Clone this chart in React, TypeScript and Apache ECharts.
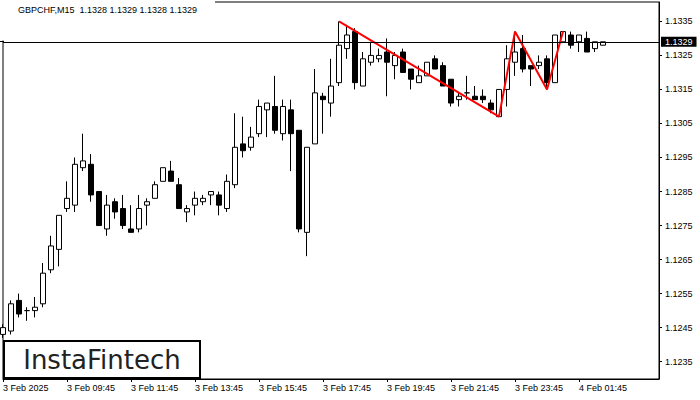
import React, { useEffect, useRef } from "react";
import * as echarts from "echarts";

const xTickLabels = [
  "3 Feb 2025", "3 Feb 09:45", "3 Feb 11:45", "3 Feb 13:45", "3 Feb 15:45",
  "3 Feb 17:45", "3 Feb 19:45", "3 Feb 21:45", "3 Feb 23:45", "4 Feb 01:45",
];
const yTickValues = [1.1235, 1.1245, 1.1255, 1.1265, 1.1275, 1.1285, 1.1295, 1.1305, 1.1315, 1.1325, 1.1335];

const opens = [
  1.1243, 1.1244, 1.1253, 1.125, 1.125, 1.1252, 1.1262, 1.1268, 1.128, 1.1281,
  1.1292, 1.1293, 1.1285, 1.1274, 1.1282, 1.128, 1.1274, 1.1274, 1.1281, 1.1283,
  1.1288, 1.1291, 1.1287, 1.1279, 1.1281, 1.1282, 1.1284, 1.1284, 1.128, 1.1287,
  1.1299, 1.1298, 1.1302, 1.1309, 1.131, 1.1302, 1.1309, 1.1303, 1.1273, 1.1299,
  1.1313, 1.1311, 1.1317, 1.1327, 1.1332, 1.1316, 1.1323, 1.1324, 1.1326, 1.1322,
  1.1326, 1.1321, 1.1317, 1.1319, 1.1324, 1.1322, 1.1318, 1.1312, 1.1314, 1.1313,
  1.1313, 1.1311, 1.1307, 1.1315, 1.1323, 1.1327, 1.1322, 1.1322, 1.1324, 1.1317,
  1.1329, 1.1331, 1.1329, 1.133, 1.1327, 1.1328,
];
const closes = [
  1.1245, 1.1252, 1.1249, 1.125, 1.1251, 1.1261, 1.1269, 1.1278, 1.1283, 1.1293,
  1.1294, 1.1284, 1.1275, 1.1281, 1.1279, 1.1275, 1.1273, 1.128, 1.1282, 1.1287,
  1.1292, 1.1288, 1.128, 1.128, 1.1283, 1.1283, 1.1285, 1.1281, 1.1288, 1.1298,
  1.1297, 1.1301, 1.131, 1.1311, 1.1303, 1.131, 1.1302, 1.1274, 1.1298, 1.1314,
  1.1312, 1.1316, 1.1328, 1.1331, 1.1317, 1.1324, 1.1325, 1.1325, 1.1323, 1.1325,
  1.132, 1.1318, 1.1319, 1.1323, 1.1321, 1.1316, 1.1311, 1.1313, 1.1314, 1.1312,
  1.1312, 1.1309, 1.1315, 1.1324, 1.1326, 1.1321, 1.1321, 1.1323, 1.1317, 1.1331,
  1.1332, 1.1328, 1.1331, 1.1326, 1.1329, 1.1329,
];
const lows = [
  1.1242, 1.1243, 1.1248, 1.1247, 1.1248, 1.1251, 1.1261, 1.1263, 1.1279, 1.1279,
  1.1291, 1.1282, 1.1275, 1.1272, 1.1277, 1.1274, 1.1273, 1.1273, 1.1275, 1.1283,
  1.1288, 1.1288, 1.128, 1.1276, 1.1278, 1.1281, 1.1281, 1.1278, 1.1279, 1.1286,
  1.1295, 1.1297, 1.1301, 1.1301, 1.1302, 1.13, 1.1291, 1.1273, 1.1266, 1.1299,
  1.1302, 1.1307, 1.1316, 1.1324, 1.1315, 1.1316, 1.1322, 1.1323, 1.1313, 1.1318,
  1.132, 1.1315, 1.1317, 1.1319, 1.1321, 1.1316, 1.131, 1.131, 1.1312, 1.1312,
  1.1311, 1.1308, 1.1307, 1.131, 1.1319, 1.132, 1.1316, 1.1321, 1.1315, 1.1317,
  1.1329, 1.1327, 1.1326, 1.1326, 1.1326, 1.1328,
];
const highs = [
  1.1246, 1.1253, 1.1255, 1.1251, 1.1254, 1.1264, 1.1272, 1.1278, 1.1288, 1.1295,
  1.1302, 1.1296, 1.1285, 1.1284, 1.1283, 1.1284, 1.1281, 1.1284, 1.1283, 1.1288,
  1.1292, 1.1294, 1.1289, 1.1281, 1.1285, 1.1284, 1.1285, 1.1285, 1.129, 1.1308,
  1.1307, 1.1304, 1.1312, 1.1311, 1.1319, 1.1312, 1.1312, 1.1303, 1.1298, 1.1321,
  1.1314, 1.1324, 1.1335, 1.1334, 1.1333, 1.1326, 1.1329, 1.1327, 1.133, 1.1326,
  1.1327, 1.1321, 1.1322, 1.1323, 1.1325, 1.1323, 1.1318, 1.1314, 1.1319, 1.1316,
  1.1315, 1.1312, 1.1315, 1.1328, 1.1332, 1.1331, 1.1322, 1.1325, 1.1325, 1.1331,
  1.1332, 1.1332, 1.1331, 1.1332, 1.1329, 1.1329,
];

const patternIndex = [42, 62, 64, 68, 70];
const patternPrice = [1.1335, 1.1307, 1.1332, 1.1315, 1.1332];

const currentPrice = 1.1329;
const titleText = "GBPCHF,M15  1.1328 1.1329 1.1328 1.1329";
const slotCount = 83;
const labelStep = 8;

const FONT = "Liberation Sans";

export default function App() {
  const ref = useRef<HTMLDivElement>(null);
  useEffect(() => {
    if (!ref.current) return;
    const chart = echarts.init(ref.current, null, { renderer: "svg" });
    const categories: string[] = [];
    for (let i = 0; i < slotCount; i++) categories.push(String(i));
    const labelFor = (i: number) =>
      i % labelStep === 0 && i / labelStep < xTickLabels.length ? xTickLabels[i / labelStep] : "";
    const candles = opens.map((o, i) => [o, closes[i], lows[i], highs[i]]);
    const pattern = patternIndex.map((x, i) => [x, patternPrice[i]]);

    chart.setOption({
      animation: false,
      backgroundColor: "#fff",
      grid: {
        left: 3, right: 41, top: 2, bottom: 21,
        show: true, borderColor: "#000", borderWidth: 1, backgroundColor: "#fff",
      },
      xAxis: {
        type: "category",
        data: categories,
        boundaryGap: false,
        axisLine: { show: true, lineStyle: { color: "#000", width: 1 } },
        axisTick: {
          show: true, length: 3, lineStyle: { color: "#000" },
          interval: (i: number) => labelFor(i) !== "",
        },
        axisLabel: {
          interval: (i: number) => labelFor(i) !== "",
          formatter: (_v: string, i: number) => labelFor(i),
          align: "left",
          margin: 4,
          fontSize: 9,
          fontFamily: FONT,
          color: "#000",
        },
        splitLine: { show: false },
      },
      yAxis: {
        type: "value",
        position: "right",
        min: 1.12299,
        max: 1.13407,
        scale: true,
        axisLine: { show: true, lineStyle: { color: "#000", width: 1 } },
        axisTick: { show: true, length: 3, customValues: yTickValues, lineStyle: { color: "#000" } },
        axisLabel: {
          customValues: yTickValues,
          formatter: (v: number) => v.toFixed(4),
          margin: 6,
          fontSize: 9,
          fontFamily: FONT,
          color: "#000",
        },
        splitLine: { show: false },
      },
      series: [
        {
          type: "candlestick",
          data: candles,
          barWidth: 5,
          itemStyle: {
            color: "#fff",
            color0: "#000",
            borderColor: "#000",
            borderColor0: "#000",
            borderWidth: 1,
          },
        },
        {
          type: "line",
          data: pattern,
          symbol: "none",
          lineStyle: { color: "#ff0000", width: 2 },
          silent: true,
          z: 3,
          markLine: {
            silent: true,
            precision: 5,
            symbol: ["none", "none"],
            data: [{ yAxis: currentPrice }],
            lineStyle: { color: "#000", width: 1, type: "solid" },
            label: {
              show: true,
              position: "end",
              formatter: currentPrice.toFixed(4),
              backgroundColor: "#000",
              color: "#fff",
              fontSize: 9,
              fontFamily: FONT,
              padding: [1, 4, 0, 4],
              distance: 2,
            },
          },
        },
      ],
      graphic: [
        {
          type: "rect",
          z: 1,
          shape: { x: 0, y: 0, width: 215, height: 40.5 },
          style: { fill: "#fff" },
        },
        {
          type: "line",
          z: 4,
          shape: { x1: 0, y1: 41.5, x2: 4, y2: 41.5 },
          style: { stroke: "#000", lineWidth: 1 },
        },
        {
          type: "text",
          z: 5,
          left: 18,
          top: 5,
          style: { text: titleText, fontSize: 9, fontFamily: FONT, fill: "#000" },
        },
        {
          type: "rect",
          z: 5,
          shape: { x: 4, y: 341, width: 196, height: 37 },
          style: { fill: "#fff", stroke: "#000", lineWidth: 2 },
        },
        {
          type: "text",
          z: 6,
          x: 102,
          y: 360,
          style: {
            text: "InstaFintech",
            fontSize: 26,
            fontFamily: "DejaVu Sans",
            fill: "#222",
            align: "center",
            verticalAlign: "middle",
          },
        },
      ],
    });
    return () => chart.dispose();
  }, []);
  return (
    <div
      ref={ref}
      style={{ position: "fixed", left: 0, top: 0, width: 700, height: 400, background: "#fff" }}
    />
  );
}
